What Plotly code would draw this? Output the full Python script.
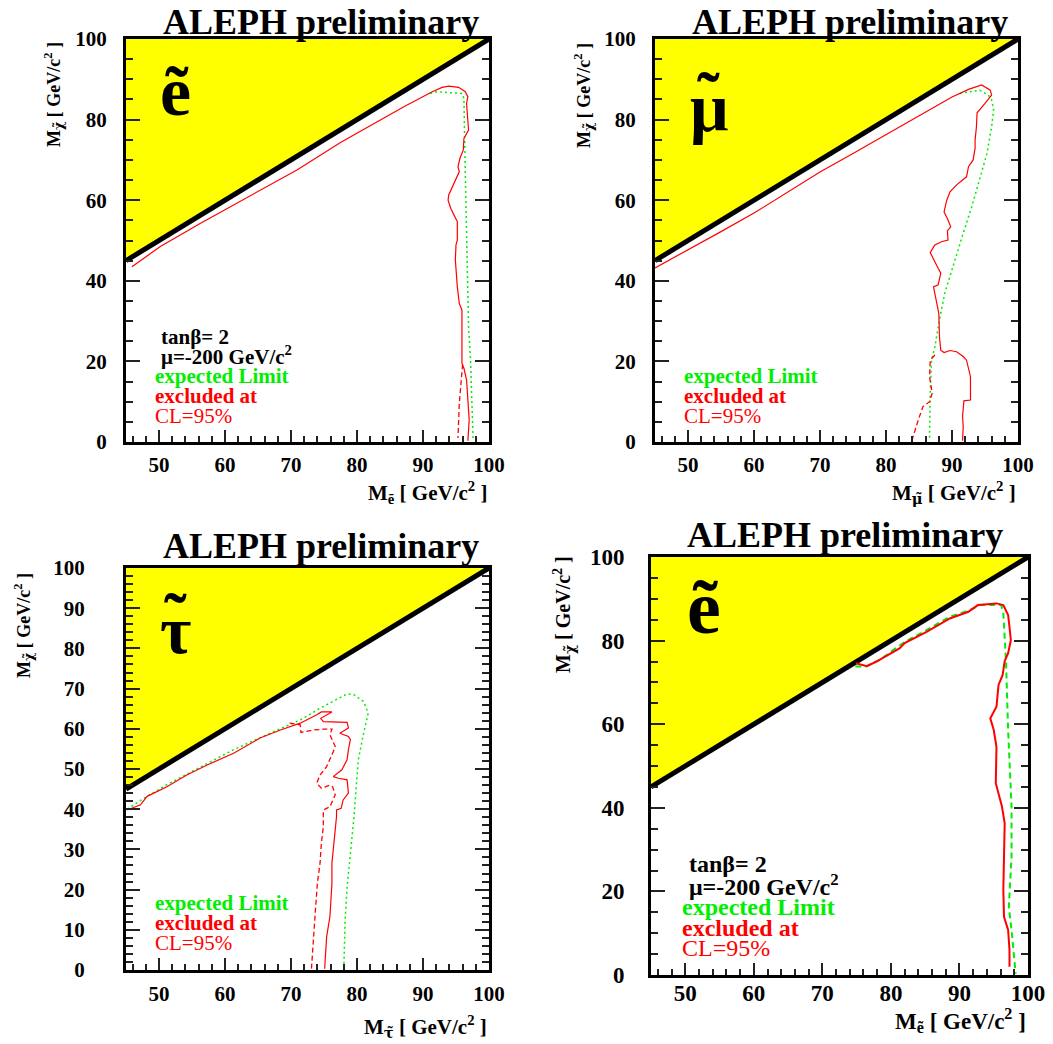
import plotly.graph_objects as go

FIG_W, FIG_H = 1053, 1044
FONT = "Liberation Serif"
RED = "#ff0000"
GREEN = "#00ee00"
YELLOW = "#ffff00"

# ---------------- data ----------------
diag_x = [45, 100]
diag_y = [45, 100]
kin_x = [45, 45, 100, 45]
kin_y = [45, 100, 100, 45]

x_ticks = [50, 60, 70, 80, 90, 100]
y_ticks_20 = [0, 20, 40, 60, 80, 100]
y_ticks_10 = [0, 10, 20, 30, 40, 50, 60, 70, 80, 90, 100]

# panel 1 : selectron
p1_obs_x = [45.9, 50.2, 56.3, 64.3, 70.9, 77.5, 83.5, 87.1, 91.4, 92.9, 93.9, 95.4, 96.4, 96.8, 96.6, 96.8,
            96.9, 96.2, 96.1, 95.6, 95.3, 95.5, 94.9, 94.3, 93.9, 93.8, 94.2, 94.7, 95.2, 95.2, 95.0, 94.9,
            95.2, 95.5, 95.9, 95.9, 96.2, 96.6, 96.8, 97.0, 96.8]
p1_obs_y = [43.5, 48.5, 54.3, 61.5, 67.5, 74.3, 79.9, 83.2, 86.9, 88.0, 88.3, 88.0, 86.9, 85.7, 84.0, 79.9,
            77.4, 75.3, 72.4, 70.4, 68.3, 67.1, 65.0, 62.9, 61.3, 60.0, 58.0, 56.3, 54.7, 50.1, 48.9, 45.2,
            38.5, 34.4, 32.7, 19.5, 18.3, 15.4, 11.2, 5.5, 0.3]
p1_alt_x = [96.0, 95.8, 95.5, 95.3]
p1_alt_y = [19.3, 15.4, 9.6, 1.0]
p1_exp_x = [91.1, 92.1, 95.9, 96.2, 96.3, 96.5, 96.7, 96.9, 97.2, 97.4, 97.6]
p1_exp_y = [86.5, 86.9, 86.5, 85.3, 75.7, 57.6, 41.0, 28.6, 20.3, 7.9, 0.3]

# panel 2 : smuon
p2_obs_x = [45.0, 50.0, 55.0, 60.0, 65.0, 70.0, 75.0, 80.0, 85.0, 90.0, 92.5, 94.5, 95.8, 96.0, 95.0, 93.8,
            93.7, 93.5, 93.5, 93.2, 92.5, 92.2, 90.7, 89.7, 89.2, 88.8, 89.4, 89.8, 89.3, 89.4, 88.4, 87.4,
            86.7, 87.2, 87.9, 88.3, 87.9, 87.2, 87.4, 87.8, 88.0, 88.1, 88.3, 88.8, 89.7, 90.7, 91.7, 92.2,
            92.5, 92.8, 92.8, 91.8, 91.6, 91.7, 91.6]
p2_obs_y = [43.2, 47.6, 52.2, 56.8, 61.9, 67.0, 71.6, 76.2, 80.9, 85.6, 87.5, 88.6, 87.3, 86.1, 84.0, 81.7,
            78.2, 74.9, 72.9, 70.0, 68.3, 65.8, 63.8, 62.1, 60.0, 57.1, 55.1, 53.4, 52.4, 50.1, 49.7, 48.9,
            47.0, 45.2, 43.1, 41.9, 39.0, 38.5, 36.9, 33.6, 31.9, 26.1, 22.8, 22.2, 22.7, 22.4, 21.2, 20.3,
            17.9, 16.2, 10.4, 10.2, 6.3, 3.8, 0.3]
p2_alt_x = [87.4, 86.7, 86.6, 87.0, 86.6, 85.6, 84.9, 84.0, 83.9]
p2_alt_y = [21.6, 20.3, 16.2, 12.1, 10.0, 8.8, 5.5, 1.3, 0.3]
p2_exp_x = [91.2, 94.2, 95.5, 96.0, 96.3, 96.0, 95.3, 94.2, 93.0, 91.7, 90.2, 88.9, 88.1, 87.4, 86.9, 86.7,
            86.6, 86.6]
p2_exp_y = [86.5, 87.3, 86.1, 84.9, 82.4, 78.2, 71.6, 65.0, 58.4, 51.8, 43.5, 36.9, 30.3, 23.6, 20.3, 12.1,
            2.1, 0.3]

# panel 3 : stau
p3_obs_x = [45.2, 47.2, 48.2, 51.2, 54.2, 57.3, 61.3, 65.3, 68.4, 71.4, 73.9, 74.6, 76.2, 74.5, 74.9, 77.2,
            78.5, 78.7, 77.4, 78.7, 79.0, 78.7, 78.5, 77.7, 76.4, 77.2, 78.5, 78.7, 77.9, 77.6, 76.9, 76.9,
            76.7, 76.3, 76.2, 76.2, 76.0, 75.9, 75.4, 75.2, 75.1]
p3_obs_y = [39.8, 41.1, 43.2, 45.6, 48.5, 51.0, 53.9, 57.7, 59.7, 61.4, 63.5, 64.2, 64.2, 62.6, 61.8, 61.6,
            61.6, 60.2, 58.9, 58.1, 57.3, 54.8, 52.3, 49.8, 48.1, 47.7, 47.3, 44.0, 42.3, 40.2, 39.8, 38.2,
            34.8, 29.9, 26.6, 21.6, 16.6, 13.3, 8.3, 3.3, 0.3]
p3_alt_x = [69.8, 71.4, 71.5, 72.1, 73.4, 74.9, 76.2, 75.9, 76.3, 76.7, 76.4, 75.8, 75.4, 74.4, 73.9, 74.6,
            75.9, 76.3, 76.7, 75.9, 74.9, 74.9, 74.6, 74.4, 74.0, 73.7, 73.4, 73.2, 73.1]
p3_alt_y = [61.4, 61.0, 59.1, 59.3, 59.7, 59.9, 59.9, 58.5, 56.8, 55.6, 54.3, 52.3, 50.6, 48.5, 46.5, 45.2,
            46.0, 45.6, 43.6, 40.6, 39.8, 35.7, 31.5, 26.6, 21.6, 14.9, 8.3, 1.7, 0.3]
p3_exp_x = [45.2, 47.7, 51.2, 56.3, 61.3, 66.3, 71.4, 74.4, 76.4, 78.5, 79.5, 81.0, 81.7, 81.0, 80.2, 79.9,
            79.5, 79.0, 78.5, 78.2, 78.0, 78.0]
p3_exp_y = [40.0, 42.7, 46.1, 50.6, 54.8, 58.5, 62.2, 65.1, 66.8, 68.7, 68.5, 66.8, 63.9, 58.9, 52.3, 45.6,
            37.3, 29.0, 20.7, 12.4, 4.1, 0.3]

# panel 4 : selectron (second analysis)
p4_obs_x = [74.9, 76.5, 77.9, 81.3, 82.0, 85.2, 88.6, 91.3, 92.7, 95.4, 96.4, 97.1, 97.3, 97.5, 97.1, 96.6,
            96.3, 95.7, 95.4, 94.5, 95.0, 95.4, 95.3, 96.2, 96.6, 96.5, 96.4, 96.5, 97.1, 97.3, 97.3]
p4_obs_y = [74.6, 73.9, 75.0, 78.2, 79.4, 82.1, 85.3, 86.9, 88.5, 88.9, 88.5, 86.1, 83.3, 80.1, 77.0, 75.1,
            71.8, 69.4, 64.2, 61.4, 58.6, 54.6, 45.9, 40.3, 36.3, 28.3, 20.3, 13.9, 10.8, 6.0, 2.0]
p4_exp_x = [74.8, 76.3, 78.4, 82.0, 85.2, 88.6, 91.5, 92.9, 96.1, 96.4, 96.7, 96.8, 97.1, 97.6, 97.6, 97.2,
            97.6, 98.1, 98.2]
p4_exp_y = [73.8, 73.8, 75.4, 79.7, 82.5, 85.7, 87.3, 88.5, 88.5, 86.5, 77.7, 74.6, 58.6, 40.3, 28.3, 16.3,
            10.8, 2.0, 0.3]

# ---------------- layout helpers ----------------
def fx(px):
    return px / FIG_W


def fy(py):
    return 1 - py / FIG_H


# pixel frames: left, right, top, bottom
frames = [
    (126, 489, 39, 442),
    (655, 1018, 39, 442),
    (126, 489, 568, 970),
    (651, 1028, 557, 975),
]

fig = go.Figure()
annotations = []


def add_panel(i, obs, alt, exp, thick, yminor, yticks, tfs, ystand, xstand):
    sfx = "" if i == 1 else str(i)
    xa, ya = "x" + sfx, "y" + sfx
    fig.add_trace(go.Scatter(x=kin_x, y=kin_y, xaxis=xa, yaxis=ya, fill="toself", fillcolor=YELLOW,
                             mode="lines", line=dict(width=0, color=YELLOW), hoverinfo="skip"))
    fig.add_trace(go.Scatter(x=diag_x, y=diag_y, xaxis=xa, yaxis=ya, mode="lines",
                             line=dict(color="black", width=5), hoverinfo="skip"))
    lw = 2.0 if thick else 1.2
    if exp is not None:
        fig.add_trace(go.Scatter(x=exp[0], y=exp[1], xaxis=xa, yaxis=ya, mode="lines",
                                 line=dict(color=GREEN, width=lw if thick else 1.5,
                                           dash="6px,4px" if thick else "2px,3px")))
    if alt is not None:
        fig.add_trace(go.Scatter(x=alt[0], y=alt[1], xaxis=xa, yaxis=ya, mode="lines",
                                 line=dict(color=RED, width=1.3, dash="5px,3px")))
    fig.add_trace(go.Scatter(x=obs[0], y=obs[1], xaxis=xa, yaxis=ya, mode="lines",
                             line=dict(color=RED, width=lw)))
    l, r, t, b = frames[i - 1]
    tickfont = dict(family=FONT, size=tfs, color="black", weight="bold")
    fig.layout["xaxis" + sfx] = dict(
        domain=[fx(l), fx(r)], anchor=ya, range=[45, 100], showgrid=False, zeroline=False,
        showline=True, linewidth=3, linecolor="black", mirror=True, automargin=False,
        ticks="inside", ticklen=12, tickwidth=2, tickcolor="#222", tickvals=x_ticks,
        minor=dict(ticks="inside", dtick=2, tick0=0, ticklen=6, tickwidth=1.5, tickcolor="#222"),
        tickfont=tickfont, ticklabelstandoff=xstand, fixedrange=True)
    fig.layout["yaxis" + sfx] = dict(
        domain=[fy(b), fy(t)], anchor=xa, range=[0, 100], showgrid=False, zeroline=False,
        showline=True, linewidth=3, linecolor="black", mirror="ticks", automargin=False,
        ticks="inside", ticklen=14, tickwidth=2, tickcolor="#222", tickvals=yticks,
        minor=dict(ticks="inside", dtick=yminor, tick0=0, ticklen=7, tickwidth=1.5, tickcolor="#222"),
        tickfont=tickfont, ticklabelstandoff=ystand, fixedrange=True)


add_panel(1, (p1_obs_x, p1_obs_y), (p1_alt_x, p1_alt_y), (p1_exp_x, p1_exp_y), False, 5, y_ticks_20, 21, 12, 2)
add_panel(2, (p2_obs_x, p2_obs_y), (p2_alt_x, p2_alt_y), (p2_exp_x, p2_exp_y), False, 5, y_ticks_20, 21, 12, 2)
add_panel(3, (p3_obs_x, p3_obs_y), (p3_alt_x, p3_alt_y), (p3_exp_x, p3_exp_y), False, 2, y_ticks_10, 21, 34, 3)
add_panel(4, (p4_obs_x, p4_obs_y), None, (p4_exp_x, p4_exp_y), True, 5, y_ticks_20, 23, 19, -5)


def txt(text, x, y, size, color="black", xanchor="left", yanchor="middle", angle=0, bold=True):
    annotations.append(dict(text=text, x=fx(x), y=fy(y), xref="paper", yref="paper",
                            xanchor=xanchor, yanchor=yanchor, showarrow=False, textangle=angle,
                            font=dict(family=FONT, size=size, color=color,
                                      weight="bold" if bold else "normal")))


# titles
txt("ALEPH preliminary", 321, 0, 36, xanchor="center", yanchor="top")
txt("ALEPH preliminary", 850, 0, 36, xanchor="center", yanchor="top")
txt("ALEPH preliminary", 321, 546, 36, xanchor="center")
txt("ALEPH preliminary", 845, 535, 36, xanchor="center")

# particle symbols (tilde drawn as a separate mark)
txt("ẽ", 158, 92, 70)
txt("μ", 688, 108, 68)
txt("˜", 708, 96, 68, xanchor="center")
txt("τ", 158, 630, 68)
txt("˜", 175, 617, 68, xanchor="center")
txt("ẽ", 685, 607, 76)

# axis titles
chi = "<span style='font-family:DejaVu Serif'>χ̃</span>"
ytitle = "M<sub>" + chi + "</sub> [ GeV/c<sup>2</sup> ]"
txt(ytitle, 54, 95, 18, xanchor="center", angle=-90)
txt(ytitle, 583, 96, 18, xanchor="center", angle=-90)
txt(ytitle, 23, 626, 18, xanchor="center", angle=-90)
txt(ytitle, 564, 615, 20, xanchor="center", angle=-90)
mu_t = "<span style='font-family:DejaVu Serif'>μ̃</span>"
tau_t = "<span style='font-family:DejaVu Serif'>τ̃</span>"
txt("M<sub>ẽ</sub> [ GeV/c<sup>2</sup> ]", 489, 492, 21, xanchor="right")
txt("M<sub>" + mu_t + "</sub> [ GeV/c<sup>2</sup> ]", 1018, 492, 21, xanchor="right")
txt("M<sub>" + tau_t + "</sub> [ GeV/c<sup>2</sup> ]", 489, 1026, 21, xanchor="right")
txt("M<sub>ẽ</sub> [ GeV/c<sup>2</sup> ]", 1028, 1020, 23, xanchor="right")

# in-plot labels
txt("tanβ= 2", 159, 337, 21)
txt("μ=-200 GeV/c<sup>2</sup>", 159, 355, 21)
for (lx, ly, s, dy) in [(153, 376, 21, 20), (682, 376, 21, 20), (153, 903, 21, 20), (680, 907, 24, 20.5)]:
    txt("expected Limit", lx, ly, s, color=GREEN)
    txt("excluded at", lx, ly + dy, s, color=RED)
    txt("CL=95%", lx, ly + 2 * dy, s, color=RED, bold=False)
txt("tanβ= 2", 687, 864, 24)
txt("μ=-200 GeV/c<sup>2</sup>", 687, 885, 24)

fig.update_layout(width=FIG_W, height=FIG_H, margin=dict(l=0, r=0, t=0, b=0, autoexpand=False),
                  paper_bgcolor="white", plot_bgcolor="white", showlegend=False,
                  annotations=annotations)

fig.write_html("out.html")
